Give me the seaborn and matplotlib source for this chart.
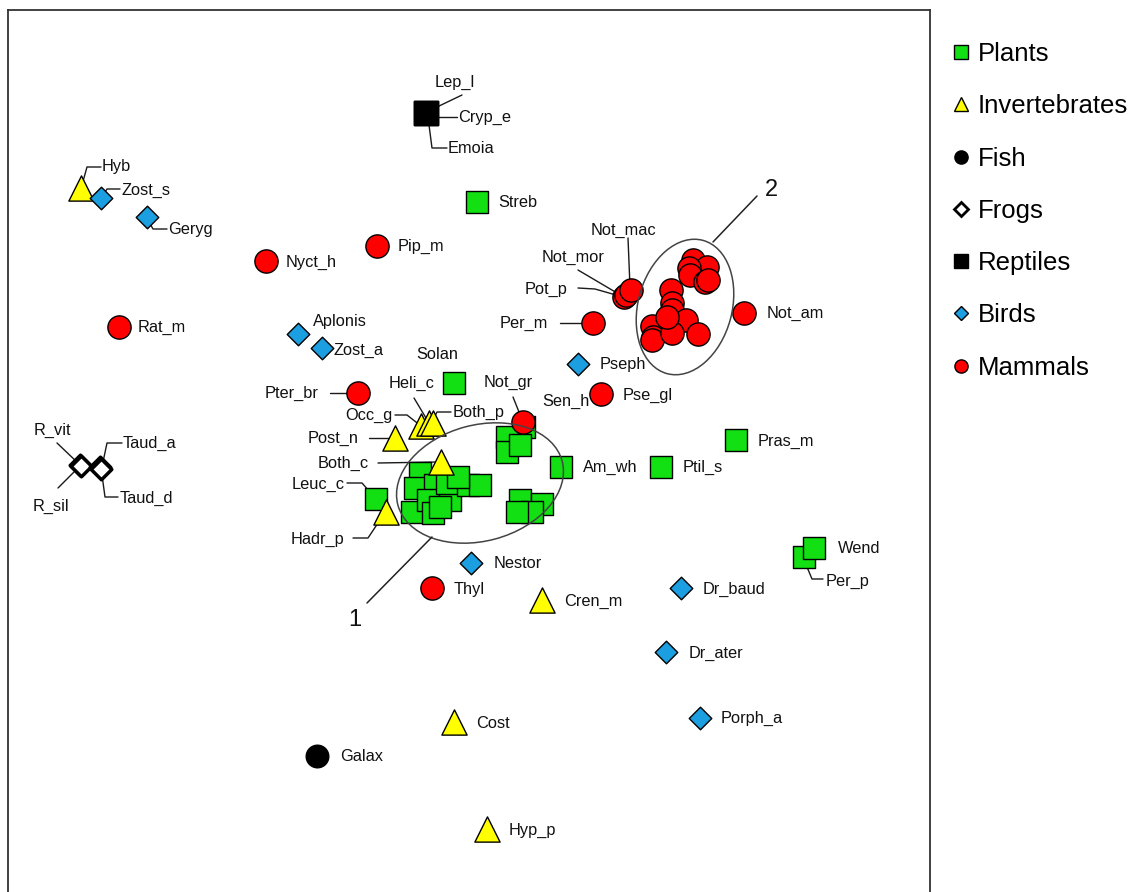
import matplotlib
matplotlib.use("Agg")
import matplotlib.pyplot as plt
import seaborn as sns
import pandas as pd
from matplotlib.patches import Ellipse
from matplotlib.lines import Line2D

sns.set_theme(style="white")
plt.rcParams['font.family'] = ['Liberation Sans', 'DejaVu Sans']
plt.rcParams['text.color'] = 'black'

# ---------------- data (ordination scores, axis 2 increases downward) ----------------
plant_names = ["Streb", "Solan", "Pras_m", "Ptil_s", "Am_wh", "Per_p", "Wend", "Leuc_c", "Sen_h",
               "", "", "", "", "", "", "", "", "", "", "", "",
               "", "", "", "", "", "", ""]
plant_x = [477, 454, 736, 661, 561, 804, 814, 376, 524,
           420, 415, 412, 435, 428, 450, 447, 468, 480, 458, 433, 440,
           507, 507, 520, 520, 542, 532, 517]
plant_y = [202, 383, 440, 467, 467, 557, 548, 499, 427,
           473, 488, 512, 485, 500, 500, 483, 485, 485, 477, 513, 507,
           437, 452, 445, 500, 504, 512, 512]

invert_names = ["Hyb", "Occ_g", "Heli_c", "Both_p", "Post_n", "Both_c", "Hadr_p", "Cren_m", "Cost", "Hyp_p"]
invert_x = [81, 421, 429, 433, 395, 441, 386, 542, 454, 487]
invert_y = [188, 426, 423, 423, 438, 462, 512, 600, 722, 829]

fish_names = ["Galax"]
fish_x = [317]
fish_y = [756]

frog_names = ["R_vit", "R_sil", "Taud_a", "Taud_d"]
frog_x = [80, 81, 100, 101]
frog_y = [465, 466, 467, 469]

reptile_names = ["Lep_l", "Cryp_e", "Emoia"]
reptile_x = [426, 426, 426]
reptile_y = [113, 113, 113]

bird_names = ["Zost_s", "Geryg", "Aplonis", "Zost_a", "Pseph", "Nestor", "Dr_baud", "Dr_ater", "Porph_a"]
bird_x = [101, 147, 298, 322, 578, 471, 681, 666, 700]
bird_y = [198, 217, 334, 348, 364, 563, 588, 652, 718]

mammal_names = ["Nyct_h", "Pip_m", "Rat_m", "Pter_br", "Pse_gl", "Not_gr", "Thyl", "Per_m", "Pot_p",
                "Not_mor", "Not_mac", "Not_am",
                "", "", "", "", "", "", "", "", "", "", "", "", "", "", "", ""]
mammal_x = [266, 377, 119, 358, 601, 523, 432, 593, 624, 626, 631, 744,
            693, 707, 689, 690, 705, 708, 671, 672, 672, 686, 652, 653, 652, 672, 698, 667]
mammal_y = [261, 246, 327, 393, 394, 422, 588, 323, 297, 295, 290, 313,
            260, 267, 268, 275, 282, 280, 290, 303, 310, 320, 326, 337, 340, 333, 334, 317]

groups = ["Plants", "Invertebrates", "Fish", "Frogs", "Reptiles", "Birds", "Mammals"]

frames = []
for g, n, x, y in [("Plants", plant_names, plant_x, plant_y),
                   ("Invertebrates", invert_names, invert_x, invert_y),
                   ("Fish", fish_names, fish_x, fish_y),
                   ("Frogs", frog_names, frog_x, frog_y),
                   ("Reptiles", reptile_names, reptile_x, reptile_y),
                   ("Birds", bird_names, bird_x, bird_y),
                   ("Mammals", mammal_names, mammal_x, mammal_y)]:
    frames.append(pd.DataFrame({"name": n, "x": x, "y": y, "group": g}))
df = pd.concat(frames, ignore_index=True)

# ---------------- styles ----------------
STYLE = {
    "Plants":        dict(marker="s", s=250, color="#12e012", edgecolor="black", linewidth=1.0),
    "Invertebrates": dict(marker="^", s=330, color="#ffff00", edgecolor="black", linewidth=1.0),
    "Fish":          dict(marker="o", s=265, color="black", edgecolor="black", linewidth=1.0),
    "Frogs":         dict(marker="D", s=110, color="white", edgecolor="black", linewidth=2.5),
    "Reptiles":      dict(marker="s", s=275, color="black", edgecolor="black", linewidth=1.0),
    "Birds":         dict(marker="D", s=132, color="#1b9fe0", edgecolor="black", linewidth=1.0),
    "Mammals":       dict(marker="o", s=280, color="#ff0000", edgecolor="black", linewidth=1.0),
}

# label offsets (dx, dy, ha) relative to the point, and leader polylines (offsets)
LABELS = {
    "Streb": (21, 1, "left"), "Solan": (-17, -28, "center"), "Pras_m": (22, 1, "left"),
    "Ptil_s": (22, 0, "left"), "Am_wh": (22, 0, "left"), "Wend": (24, 1, "left"),
    "Per_p": (22, 24, "left"), "Leuc_c": (-31, -15, "right"), "Sen_h": (18, -26, "left"),
    "Hyb": (21, -21, "left"), "Occ_g": (-28, -11, "right"), "Heli_c": (-17, -40, "center"),
    "Both_p": (20, -11, "left"), "Post_n": (-36, 0, "right"), "Both_c": (-72, 1, "right"),
    "Hadr_p": (-42, 27, "right"), "Cren_m": (22, 1, "left"), "Cost": (22, 2, "left"),
    "Hyp_p": (22, 1, "left"), "Galax": (23, 1, "left"),
    "R_vit": (-28, -35, "center"), "R_sil": (-30, 40, "center"),
    "Taud_a": (23, -24, "left"), "Taud_d": (19, 29, "left"),
    "Lep_l": (29, -31, "center"), "Cryp_e": (32, 4, "left"), "Emoia": (22, 36, "left"),
    "Zost_s": (21, -8, "left"), "Geryg": (21, 13, "left"), "Aplonis": (15, -12, "left"),
    "Zost_a": (11, 2, "left"), "Pseph": (22, 1, "left"), "Nestor": (23, 1, "left"),
    "Dr_baud": (22, 1, "left"), "Dr_ater": (23, 1, "left"), "Porph_a": (21, 0, "left"),
    "Nyct_h": (20, 1, "left"), "Pip_m": (21, 0, "left"), "Rat_m": (19, 0, "left"),
    "Pter_br": (-39, 0, "right"), "Pse_gl": (22, 1, "left"), "Not_gr": (-15, -40, "center"),
    "Thyl": (22, 2, "left"), "Per_m": (-45, 0, "right"), "Pot_p": (-56, -8, "right"),
    "Not_mor": (-53, -38, "center"), "Not_mac": (-8, -60, "center"), "Not_am": (23, 0, "left"),
}
LEADERS = {
    "Solan": [(0, 0), (-7, -8)],
    "Per_p": [(0, -7), (3, 10), (8, 22), (19, 22)],
    "Leuc_c": [(0, 0), (-14, -16), (-29, -16)],
    "Hyb": [(1, -3), (6, -21), (20, -21)],
    "Occ_g": [(0, 0), (-14, -11), (-26, -11)],
    "Heli_c": [(0, 0), (-15, -25)],
    "Both_p": [(0, -3), (4, -11), (18, -11)],
    "Post_n": [(-6, 0), (-26, 0)],
    "Both_c": [(-3, 0), (-63, 1)],
    "Hadr_p": [(-6, 8), (-18, 26), (-33, 26)],
    "R_vit": [(-2, -2), (-23, -22)],
    "R_sil": [(-3, 2), (-23, 22)],
    "Taud_a": [(3, -5), (7, -24), (22, -24)],
    "Taud_d": [(1, 6), (4, 28), (17, 28)],
    "Lep_l": [(11, -6), (36, -18)],
    "Cryp_e": [(12, 4), (31, 4)],
    "Emoia": [(3, 12), (6, 35), (21, 35)],
    "Zost_s": [(1, -1), (6, -9), (19, -9)],
    "Geryg": [(1, 3), (6, 12), (20, 12)],
    "Pter_br": [(-11, 0), (-28, 0)],
    "Not_gr": [(0, 0), (-10, -25)],
    "Per_m": [(-11, 0), (-33, 0)],
    "Pot_p": [(-1, 0), (-29, -8), (-46, -9)],
    "Not_mor": [(-9, -2), (-48, -25)],
    "Not_mac": [(-1, -3), (-3, -52)],
}

# ellipses: (cx, cy, width, height, angle) ; group labels
ELLIPSES = [(480, 483, 170, 116, -15), (685, 307, 138, 94, -75)]
GROUP_TAGS = [("1", 355, 620, [(432, 537), (367, 603)]),
              ("2", 771, 190, [(713, 242), (757, 196)])]

# ---------------- figure ----------------
W, H = 1134, 892
fig = plt.figure(figsize=(W / 100, H / 100), dpi=100)
ax = fig.add_axes([8 / W, 0, 922 / W, 882 / H])
ax.set_xlim(8, 930)
ax.set_ylim(892, 10)
ax.set_xticks([])
ax.set_yticks([])
for side in ["top", "left", "right"]:
    ax.spines[side].set_color("#333333")
    ax.spines[side].set_linewidth(1.3)
ax.spines["bottom"].set_visible(False)

# leaders first (under markers)
lc = "#1a1a1a"
for _, r in df.iterrows():
    if r["name"] in LEADERS:
        pts = LEADERS[r["name"]]
        ax.plot([r.x + p[0] for p in pts], [r.y + p[1] for p in pts], color=lc, lw=1.0, zorder=2)

for i, g in enumerate(groups):
    sub = df[df.group == g]
    sns.scatterplot(data=sub, x="x", y="y", ax=ax, legend=False, zorder=3 + i, **STYLE[g])

for _, r in df.iterrows():
    if r["name"] in LABELS:
        dx, dy, ha = LABELS[r["name"]]
        ax.text(r.x + dx, r.y + dy, r["name"], ha=ha, va="center", fontsize=11.8,
                color="#111111", zorder=20)

for cx, cy, w, h, a in ELLIPSES:
    ax.add_patch(Ellipse((cx, cy), w, h, angle=a, fill=False, edgecolor="#444444", lw=1.1, zorder=15))
for t, tx, ty, line in GROUP_TAGS:
    ax.plot([p[0] for p in line], [p[1] for p in line], color="#222222", lw=1.1, zorder=15)
    ax.text(tx, ty, t, fontsize=17, ha="center", va="center", color="#111111")

ax.set_xlim(8, 930)
ax.set_ylim(892, 10)
ax.set_xlabel("")
ax.set_ylabel("")

# legend
handles = []
for g in groups:
    st = STYLE[g]
    ms = {"s": 10, "^": 10, "o": 9.5, "D": 7}[st["marker"]]
    handles.append(Line2D([], [], linestyle="none", marker=st["marker"], markersize=ms,
                          markerfacecolor=st["color"], markeredgecolor="black",
                          markeredgewidth=2.0 if g == "Frogs" else 1.0, label=g))
leg = fig.legend(handles=handles, loc="upper left", bbox_to_anchor=(953 / W, 1 - 42 / H),
                 frameon=False, fontsize=18.5, labelspacing=1.1, handlelength=0.6,
                 handletextpad=0.35, borderpad=0, borderaxespad=0)
for t in leg.get_texts():
    t.set_color("black")

fig.savefig("out.png", dpi=100)
